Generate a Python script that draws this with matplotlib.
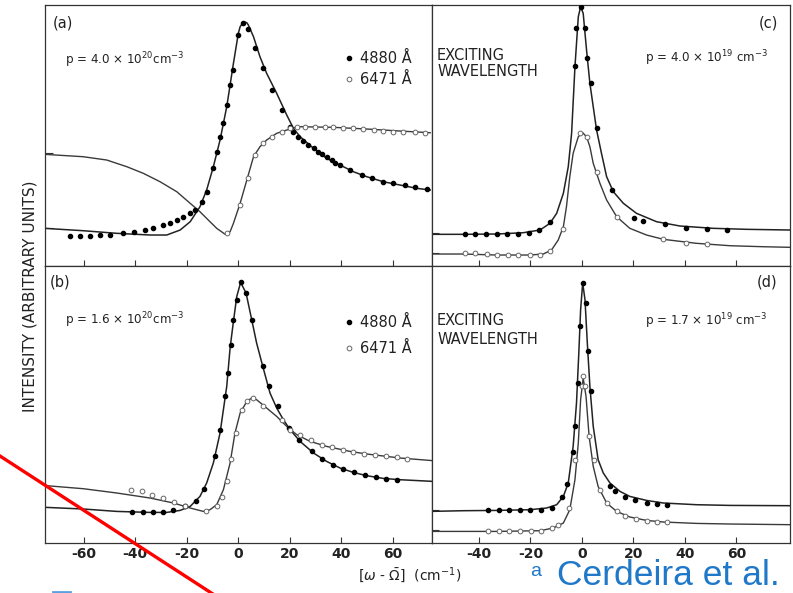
import numpy as np
import matplotlib as mpl
import matplotlib.pyplot as plt
from matplotlib.lines import Line2D

mpl.rcParams["font.family"] = ["DejaVu Sans"]
mpl.rcParams["axes.unicode_minus"] = False

# ---- panel (a): p = 4.0e20, shift in cm-1 vs intensity (arb.)
a_fit4880_x = [-75.2, -60.1, -47.1, -34.2, -27.7, -22.5, -18.6, -14.8, -12.2, -9.6, -7.0, -4.4, -1.8, 0.1, 0.8,
               2.1, 3.4, 4.0, 6.0, 8.5, 11.1, 15.0, 18.9, 21.5, 24.1, 29.3, 34.4, 39.6, 44.8, 50.0, 56.4, 62.9, 69.4, 74.6]
a_fit4880_y = [37.7, 35.3, 32.7, 31.0, 31.0, 36.0, 44.3, 59.3, 76.0, 99.3, 126.0, 159.3, 202.7, 232.7, 239.3,
               244.3, 243.3, 241.0, 229.3, 209.3, 192.7, 172.7, 151.0, 137.7, 129.3, 117.7, 107.7, 101.0, 94.3, 89.3, 84.3, 81.0, 77.7, 76.0]
a_pts4880_x = [-65.2, -61.4, -57.5, -53.6, -49.7, -44.5, -40.6, -36.1, -32.9, -29.0, -26.4, -23.8, -21.2, -18.6, -16.7,
               -14.1, -12.2, -9.6, -8.3, -7.0, -5.7, -4.4, -3.1, -1.8, 0.1, 2.1, 4.0, 6.6, 9.8, 13.1, 17.0, 20.2, 21.5,
               23.4, 25.4, 27.3, 29.3, 31.2, 32.5, 34.4, 36.4, 37.7, 39.6, 43.5, 48.0, 51.9, 56.4, 60.3, 64.9, 68.7, 73.3]
a_pts4880_y = [30.3, 30.3, 30.3, 30.7, 31.0, 32.7, 34.3, 36.0, 38.0, 40.7, 43.3, 46.0, 49.3, 52.7, 56.0,
               64.3, 74.3, 97.7, 114.3, 129.3, 142.7, 161.0, 181.0, 196.0, 231.0, 243.3, 236.7, 217.7, 197.7, 176.0, 156.0, 139.3, 134.3,
               129.3, 125.3, 121.0, 117.7, 114.3, 112.0, 109.3, 106.0, 103.3, 101.0, 96.0, 91.0, 87.7, 84.3, 82.7, 81.0, 78.7, 76.7]
a_fit6471_x = [-75.2, -60.1, -51.0, -43.2, -36.8, -30.3, -23.8, -18.6, -14.8, -10.9, -8.3, -5.0, -3.1, -1.8, 0.8,
               3.4, 6.0, 8.5, 11.1, 15.0, 18.9, 21.5, 24.1, 37.0, 50.0, 62.9, 74.6]
a_fit6471_y = [111.7, 109.3, 106.0, 99.3, 92.7, 84.3, 74.3, 62.7, 54.3, 44.3, 37.7, 31.7, 34.3, 42.7, 62.7,
               86.0, 109.3, 119.3, 126.0, 132.7, 136.0, 138.3, 139.3, 138.7, 137.0, 135.0, 133.3]
a_pts6471_x = [-4.4, 0.8, 4.0, 6.6, 9.8, 13.1, 17.0, 20.2, 22.8, 26.0, 29.9, 33.8, 37.0, 40.9, 44.8, 48.7,
               52.6, 56.4, 60.3, 64.2, 68.7, 72.6]
a_pts6471_y = [32.7, 61.0, 87.7, 111.0, 122.7, 129.3, 134.3, 137.7, 138.7, 138.7, 139.0, 139.0, 138.7, 138.3, 138.0, 137.3,
               136.0, 135.3, 134.3, 134.3, 133.7, 132.7]

# ---- panel (b): p = 1.6e20
b_fit4880_x = [-74.3, -60.1, -47.1, -34.2, -27.7, -22.5, -18.6, -14.8, -12.2, -9.6, -7.0, -4.4, -3.1, -1.8, -0.5,
               1.0, 3.1, 5.3, 7.2, 9.6, 12.4, 15.0, 17.6, 20.2, 24.1, 29.3, 34.4, 39.6, 44.8, 50.0, 56.4, 62.9, 75.9]
b_fit4880_y = [35.6, 34.0, 31.6, 30.6, 30.6, 32.6, 36.6, 46.6, 60.0, 80.0, 110.0, 156.6, 195.0, 221.6, 246.6,
               260.6, 250.0, 223.3, 200.0, 176.6, 150.0, 135.0, 123.3, 113.3, 101.6, 90.0, 81.6, 75.0, 70.6, 67.3, 64.6, 63.3, 61.6]
b_pts4880_x = [-41.3, -37.0, -32.9, -29.0, -25.1, -20.6, -16.4, -13.1, -8.9, -7.0, -5.0, -4.0, -2.8, -1.8, -0.5,
               1.0, 3.1, 5.3, 9.6, 12.2, 15.7, 19.9, 23.8, 28.6, 32.5, 36.8, 40.9, 45.2, 49.3, 53.6, 57.5, 61.6]
b_pts4880_y = [31.0, 31.0, 31.0, 31.0, 33.3, 36.6, 41.6, 54.0, 86.6, 113.3, 146.6, 170.0, 198.3, 223.3, 243.3,
               260.6, 250.0, 223.3, 176.6, 156.6, 136.6, 115.0, 103.3, 91.6, 84.3, 78.3, 74.0, 70.6, 68.3, 66.0, 64.0, 63.3]
b_fit6471_x = [-74.3, -60.1, -47.1, -34.2, -25.1, -18.6, -13.5, -10.9, -8.3, -5.7, -3.1, -1.2, 0.8, 3.4, 5.3,
               7.2, 11.1, 15.0, 18.9, 22.8, 28.0, 34.4, 43.5, 50.0, 62.9, 75.9]
b_fit6471_y = [57.3, 54.3, 50.0, 45.0, 40.0, 35.0, 31.6, 33.3, 38.3, 53.3, 80.0, 110.0, 130.0, 141.6, 145.0,
               143.3, 135.0, 126.6, 116.6, 108.3, 101.6, 96.6, 91.6, 89.0, 85.0, 82.3]
b_pts6471_x = [-41.7, -37.4, -33.3, -29.3, -24.9, -20.6, -12.6, -8.3, -6.3, -4.4, -2.7, -0.8, 1.4, 3.4, 5.7,
               9.8, 17.0, 20.2, 24.1, 28.2, 32.5, 36.4, 40.6, 44.8, 48.9, 53.2, 57.5, 61.6, 65.8]
b_pts6471_y = [53.3, 51.6, 48.3, 45.0, 41.0, 36.6, 31.6, 36.6, 46.0, 61.6, 84.0, 110.0, 133.3, 141.6, 145.0,
               137.3, 123.3, 113.3, 107.6, 103.3, 98.3, 95.6, 93.3, 91.0, 89.3, 87.6, 86.6, 86.0, 84.0]

# ---- panel (c): p = 4.0e19
c_fit4880_x = [-59.0, -46.1, -33.1, -22.8, -16.3, -12.4, -9.8, -7.2, -5.3, -4.0, -2.7, -1.4, -0.5, 0.5, 1.8,
               3.1, 4.4, 5.7, 7.6, 9.6, 12.2, 16.1, 21.2, 29.0, 38.1, 51.0, 63.9, 80.8]
c_fit4880_y = [31.7, 31.7, 32.0, 33.3, 36.0, 42.7, 52.7, 72.7, 99.3, 132.7, 199.3, 249.3, 259.3, 252.7, 216.0,
               182.7, 159.3, 136.0, 112.7, 89.3, 74.3, 62.7, 52.7, 44.3, 40.0, 37.7, 36.7, 36.0]
c_pts4880_x = [-45.4, -41.6, -37.3, -33.1, -29.0, -24.7, -20.6, -16.6, -12.4, -2.7, -2.1, -0.5, 1.2, 1.8, 3.4,
               5.7, 11.5, 20.2, 23.8, 32.2, 40.4, 48.4, 56.2]
c_pts4880_y = [31.7, 31.7, 31.7, 31.7, 31.7, 32.3, 32.7, 36.0, 44.3, 200.0, 237.7, 259.3, 237.7, 207.7, 182.7,
               137.7, 76.0, 47.7, 45.3, 41.7, 38.3, 36.7, 36.0]
c_fit6471_x = [-59.0, -46.1, -33.1, -20.2, -15.0, -11.8, -9.2, -7.2, -6.0, -4.7, -3.4, -1.4, 0.3, 1.8, 3.1,
               4.4, 7.0, 9.6, 13.5, 18.6, 25.1, 31.6, 44.5, 57.5, 70.4, 80.8]
c_fit6471_y = [12.0, 12.0, 11.0, 11.0, 12.0, 16.0, 26.0, 39.3, 59.3, 89.3, 112.7, 129.3, 133.3, 129.3, 119.3,
               102.7, 82.7, 66.0, 49.3, 37.7, 31.0, 26.7, 22.7, 20.3, 19.3, 18.7]
c_pts6471_x = [-45.4, -41.6, -37.0, -33.1, -28.6, -24.7, -20.2, -16.3, -12.2, -7.2, -0.8, 1.8, 5.7, 13.5,
               31.6, 40.6, 48.4]
c_pts6471_y = [13.3, 12.7, 12.0, 11.3, 11.0, 11.0, 11.0, 11.3, 15.3, 36.7, 132.7, 129.3, 94.3, 49.3,
               26.7, 22.7, 21.7]

# ---- panel (d): p = 1.7e19
d_fit4880_x = [-59.0, -46.1, -33.1, -20.2, -13.7, -9.8, -7.2, -5.3, -3.4, -2.1, -1.2, -0.5, 0.3, 1.2, 2.1,
               3.1, 4.4, 6.3, 8.3, 10.9, 14.8, 18.6, 25.1, 31.6, 44.5, 57.5, 81.9]
d_fit4880_y = [31.6, 32.3, 32.6, 33.3, 35.0, 38.3, 46.6, 60.0, 96.6, 140.0, 190.0, 233.3, 260.0, 243.3, 200.0,
               156.6, 116.6, 83.3, 70.0, 60.0, 51.6, 46.6, 42.6, 40.0, 38.3, 37.6, 37.3]
d_pts4880_x = [-36.4, -32.2, -28.2, -24.1, -20.2, -15.9, -11.8, -7.6, -5.7, -3.6, -2.5, -1.7, -0.8, 0.3, 1.4,
               2.5, 3.4, 10.9, 12.8, 16.7, 20.6, 25.1, 29.0, 33.1]
d_pts4880_y = [32.6, 32.6, 32.6, 32.6, 32.6, 33.3, 35.0, 46.0, 59.3, 90.6, 116.6, 160.0, 216.6, 260.0, 240.0,
               191.6, 151.6, 56.6, 51.6, 45.6, 42.6, 40.0, 39.0, 38.3]
d_fit6471_x = [-59.0, -33.1, -16.3, -11.1, -7.2, -4.7, -2.7, -1.4, -0.5, 0.5, 1.6, 2.8, 4.4, 6.3, 9.6,
               13.5, 18.6, 25.1, 31.6, 44.5, 57.5, 81.9]
d_fit6471_y = [11.6, 11.6, 12.3, 15.0, 20.0, 33.3, 63.3, 100.0, 143.3, 165.0, 146.6, 106.6, 76.6, 56.6, 40.0,
               31.6, 26.0, 22.6, 21.0, 19.6, 19.0, 18.3]
d_pts6471_x = [-36.4, -32.2, -28.2, -24.1, -19.9, -15.9, -11.8, -9.4, -4.9, -2.5, -0.1, 0.5, 1.2, 2.8, 4.8,
               7.0, 9.6, 13.5, 16.7, 21.0, 25.1, 29.0, 33.1]
d_pts6471_y = [11.6, 11.6, 11.6, 11.6, 11.6, 12.3, 15.0, 18.3, 35.0, 83.3, 156.6, 166.6, 156.6, 106.6, 83.3,
               53.3, 40.0, 31.6, 26.6, 24.0, 22.3, 21.0, 20.6]

left_xticks = [-60, -40, -20, 0, 20, 40, 60]
right_xticks = [-40, -20, 0, 20, 40, 60]
a_yticks = [38, 113]
right_yticks = [13, 33]

ink = "#222222"

fig = plt.figure(figsize=(7.93, 5.93), dpi=100)
ax_a = fig.add_axes([0.0567, 0.5514, 0.4880, 0.4401])
ax_c = fig.add_axes([0.5448, 0.5514, 0.4514, 0.4401])
ax_b = fig.add_axes([0.0567, 0.0843, 0.4880, 0.4671])
ax_d = fig.add_axes([0.5448, 0.0843, 0.4514, 0.4671])


def draw(ax, f48x, f48y, p48x, p48y, f64x, f64y, p64x, p64y):
    ax.plot(f48x, f48y, color=ink, lw=1.1, zorder=2)
    ax.plot(f64x, f64y, color="#3a3a3a", lw=1.0, zorder=2)
    ax.plot(p48x, p48y, "o", ms=3.0, color="black", zorder=3)
    ax.plot(p64x, p64y, "o", ms=3.4, mfc="white", mec="#666666", mew=0.7, zorder=3)
    for s in ax.spines.values():
        s.set_color("#333333")
        s.set_linewidth(0.9)
    ax.tick_params(axis="x", direction="in", length=4, width=0.8, color="#333333",
                   labelsize=10, pad=3)
    ax.tick_params(axis="y", direction="in", length=6, width=0.8, color="#333333",
                   labelleft=False)


draw(ax_a, a_fit4880_x, a_fit4880_y, a_pts4880_x, a_pts4880_y,
     a_fit6471_x, a_fit6471_y, a_pts6471_x, a_pts6471_y)
draw(ax_b, b_fit4880_x, b_fit4880_y, b_pts4880_x, b_pts4880_y,
     b_fit6471_x, b_fit6471_y, b_pts6471_x, b_pts6471_y)
draw(ax_c, c_fit4880_x, c_fit4880_y, c_pts4880_x, c_pts4880_y,
     c_fit6471_x, c_fit6471_y, c_pts6471_x, c_pts6471_y)
draw(ax_d, d_fit4880_x, d_fit4880_y, d_pts4880_x, d_pts4880_y,
     d_fit6471_x, d_fit6471_y, d_pts6471_x, d_pts6471_y)

for ax in (ax_a, ax_b):
    ax.set_xlim(-75, 75.3)
    ax.set_xticks(left_xticks)
for ax in (ax_c, ax_d):
    ax.set_xlim(-58.2, 80.8)
    ax.set_xticks(right_xticks)
for ax in (ax_a, ax_c):
    ax.set_ylim(0, 261)
    ax.tick_params(axis="x", labelbottom=False)
for ax in (ax_b, ax_d):
    ax.set_ylim(0, 277)

ax_a.set_yticks(a_yticks)
ax_b.set_yticks([])
ax_c.set_yticks(right_yticks)
ax_d.set_yticks(right_yticks)
ax_c.tick_params(axis="y", length=5)
ax_d.tick_params(axis="y", length=5)

for ax in (ax_a, ax_b, ax_c, ax_d):
    for lab in ax.get_xticklabels():
        lab.set_fontweight("bold")
        lab.set_color(ink)

# panel letters and densities
txt = dict(color=ink, fontsize=10.5)
ax_a.text(0.021, 0.931, "(a)", transform=ax_a.transAxes, va="center", **txt)
ax_b.text(0.013, 0.942, "(b)", transform=ax_b.transAxes, va="center", **txt)
ax_c.text(0.966, 0.931, "(c)", transform=ax_c.transAxes, va="center", ha="right", **txt)
ax_d.text(0.966, 0.942, "(d)", transform=ax_d.transAxes, va="center", ha="right", **txt)

ptxt = dict(va="center", fontsize=8.6, color=ink)
ax_a.text(0.052, 0.79, r"p = 4.0 × 10$^{20}$cm$^{-3}$", transform=ax_a.transAxes, **ptxt)
ax_b.text(0.052, 0.805, r"p = 1.6 × 10$^{20}$cm$^{-3}$", transform=ax_b.transAxes, **ptxt)
ax_c.text(0.595, 0.795, r"p = 4.0 × 10$^{19}$ cm$^{-3}$", transform=ax_c.transAxes, **ptxt)
ax_d.text(0.595, 0.80, r"p = 1.7 × 10$^{19}$ cm$^{-3}$", transform=ax_d.transAxes, **ptxt)

ax_c.text(0.014, 0.835, "EXCITING\nWAVELENGTH", transform=ax_c.transAxes, va="top",
          linespacing=1.1, **txt)
ax_d.text(0.014, 0.83, "EXCITING\nWAVELENGTH", transform=ax_d.transAxes, va="top",
          linespacing=1.35, **txt)

# legends (wavelength keys)
for ax, anchor, gap in ((ax_a, (0.74, 0.875), 0.4), (ax_b, (0.74, 0.87), 0.75)):
    handles = [Line2D([], [], ls="none", marker="o", ms=3.0, color="black"),
               Line2D([], [], ls="none", marker="o", ms=3.4, mfc="white", mec="#666666", mew=0.7)]
    leg = ax.legend(handles, ["4880 Å", "6471 Å"], loc="upper left", bbox_to_anchor=anchor,
                    frameon=False, handlelength=0.6, handletextpad=0.45, labelspacing=gap,
                    fontsize=10.5)
    for t in leg.get_texts():
        t.set_color(ink)

fig.text(0.038, 0.50, "INTENSITY (ARBITRARY UNITS)", rotation=90, ha="center", va="center",
         fontsize=11, color=ink)
fig.text(0.516, 0.030, r"[$\omega$ - $\bar{\Omega}$]  (cm$^{-1}$)", ha="center", va="center",
         fontsize=10, color=ink)

# slide overlay: citation, red strike line, clipped blue fragment
blue = "#1f78c8"
fig.text(0.668, 0.036, "a", color=blue, fontsize=14, ha="left", va="center",
         family="Liberation Sans")
fig.text(0.702, 0.013, "Cerdeira et al.", color=blue, fontsize=25.5, ha="left", va="baseline",
         family="Liberation Sans")
fig.add_artist(Line2D([0.0, 0.27], [0.231, -0.003], transform=fig.transFigure,
                      color="#ff0000", lw=2.4))
fig.add_artist(Line2D([0.067, 0.088], [0.002, 0.002], transform=fig.transFigure,
                      color="#5aa0e0", lw=2.0))

fig.savefig("out.png", dpi=100)
